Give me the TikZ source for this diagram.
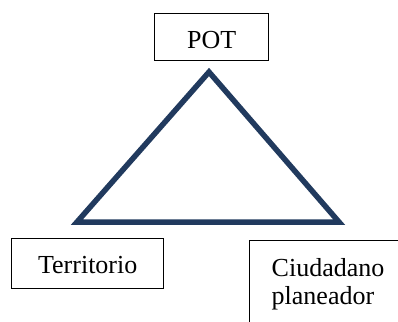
\documentclass[tikz,border=0pt]{standalone}
\usepackage{fontspec}
\setmainfont{Liberation Serif}
\definecolor{navy}{HTML}{213A5E}
\begin{document}
\begin{tikzpicture}[x=1pt,y=-1pt,
  box/.style={draw=black, line width=1.4pt, inner sep=0pt, font=\fontsize{26}{28}\selectfont},
  tri/.style={draw=navy, line width=5.5pt, line join=miter}]
\clip (0,0) rectangle (398,321);
\useasboundingbox (0,0) rectangle (398,321);
\node[box, anchor=north west, minimum width=114pt, text height=35pt, text depth=12pt] (pot) at (154,13) {POT};
\node[box, anchor=north west, minimum width=152pt, text height=35pt, text depth=15pt] (terr) at (11,238) {Territorio};
\node[box, anchor=north west, text width=126pt, align=left, inner xsep=22pt, inner ysep=18pt] (ciud) at (249,240) {Ciudadano\\planeador};
\coordinate (apex) at (209,72);
\coordinate (bl) at (77,222);
\coordinate (br) at (339,222);
\draw[tri] (apex) -- (bl) -- (br) -- cycle;
\end{tikzpicture}
\end{document}
